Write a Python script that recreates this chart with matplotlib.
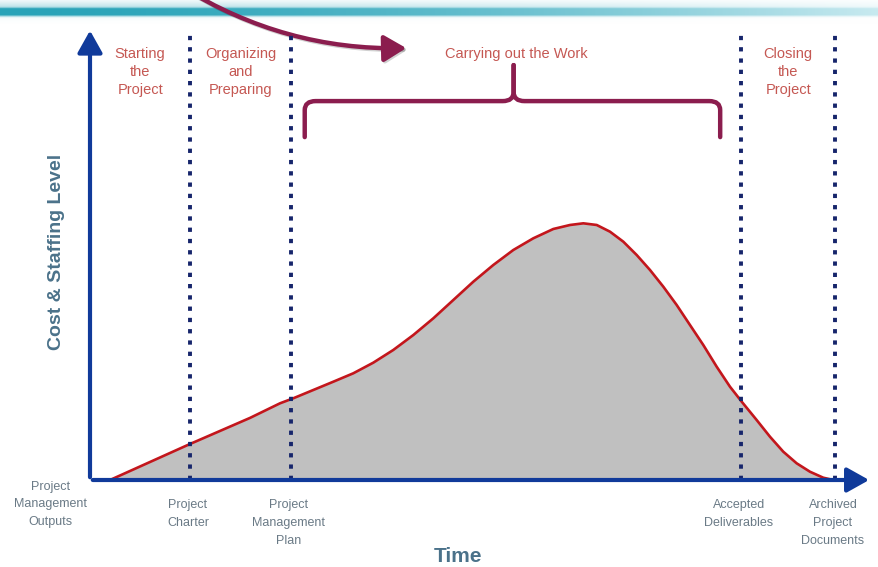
import numpy as np
import matplotlib.pyplot as plt
from matplotlib.patches import FancyArrowPatch, PathPatch
from matplotlib.path import Path

plt.rcParams['font.family'] = ['Liberation Sans', 'DejaVu Sans']

# cost / staffing curve (time and level both on a 0-100 scale)
time = [2.57, 12.85, 20.57, 24.42, 26.13, 28.70, 31.27, 33.84, 36.41, 38.98,
        41.56, 44.13, 46.70, 49.27, 51.84, 54.41, 56.98, 59.55, 61.70, 63.41,
        65.13, 66.84, 68.55, 70.27, 71.98, 73.69, 75.41, 77.12, 78.83, 80.55,
        82.26, 83.77, 85.69, 87.40, 89.11, 90.83, 92.54, 94.25, 95.54]
level = [0.0, 8.0, 13.8, 17.04, 18.16, 20.0, 21.84, 23.71, 26.07, 28.89,
         32.22, 35.93, 40.0, 44.07, 47.78, 51.11, 53.71, 55.78, 56.67, 57.04,
         56.67, 55.18, 52.96, 50.0, 46.67, 42.96, 38.89, 34.44, 30.0, 25.18,
         20.73, 17.4, 13.33, 9.62, 6.29, 3.71, 1.84, 0.51, 0.0]

milestones = [12.9, 25.8, 83.7, 95.8]
milestone_labels = ["Project\nCharter", "Project\nManagement\nPlan",
                    "Accepted\nDeliverables", "Archived\nProject\nDocuments"]
origin_label = "Project\nManagement\nOutputs"

phase_names = ["Starting\nthe\nProject", "Organizing\nand\nPreparing",
               "Carrying out the Work", "Closing\nthe\nProject"]
phase_bounds = [0.0] + milestones

W, H = 879, 567
fig = plt.figure(figsize=(W / 100, H / 100), dpi=100)
fig.patch.set_facecolor('white')

# decoration layer in pixel units
deco = fig.add_axes([0, 0, 1, 1])
deco.set_xlim(0, W)
deco.set_ylim(H, 0)
deco.axis('off')

# teal header bar, fading to the right
xs = np.linspace(0, 1, W)
ys = np.arange(24)
left_c = np.array([40, 163, 184]) / 255
right_c = np.array([200, 234, 240]) / 255
col = left_c[None, :] * (1 - xs[:, None] ** 1.6) + right_c[None, :] * xs[:, None] ** 1.6
a = np.exp(-((ys - 11.5) / 4.2) ** 4)
glow = 0.3 * np.exp(-((ys - 8) / 7.0) ** 2)
a = np.clip(a + glow, 0, 1)
img = 1 - a[:, None, None] * (1 - col[None, :, :])
deco.imshow(img, extent=(0, W, 24, 0), aspect='auto', zorder=1)

# main chart axes
ax = fig.add_axes([90 / W, (H - 480) / H, 778 / W, 450 / H])
ax.set_xlim(0, 100)
ax.set_ylim(0, 100)
ax.axis('off')

ax.fill_between(time, level, 0, color='#c0c0c0', lw=0, zorder=2)
ax.plot(time, level, color='#c3161c', lw=1.9, zorder=3,
        solid_joinstyle='round')

ax.vlines(milestones, 0, 100, colors='#16256b', lw=2.8,
          linestyles=[(0, (1.1, 1.8))], zorder=4)

# axes arrows
axis_blue = '#103a9a'
for end in [(1.005, 0), (0, 1.005)]:
    arr = FancyArrowPatch((0, 0), end, transform=ax.transAxes,
                          arrowstyle='-|>,head_length=0.75,head_width=0.42',
                          mutation_scale=18, color=axis_blue, lw=3,
                          clip_on=False, zorder=5)
    ax.add_patch(arr)

# phase labels
red_text = '#c55853'
for name, lo, hi in zip(phase_names, phase_bounds[:-1], phase_bounds[1:]):
    ax.text((lo + hi) / 2, 96.2, name, ha='center', va='top', fontsize=10.5,
            color=red_text, linespacing=1.38, zorder=6)

# milestone labels under the axis
gray_text = '#6a7a86'
xtr = ax.get_xaxis_transform()
for t, lab in zip(milestones, milestone_labels):
    ax.text(t - 0.3, -0.042, lab, transform=xtr, ha='center', va='top',
            fontsize=9, color=gray_text, linespacing=1.65)
ax.text(-5.1, -0.002, origin_label, transform=xtr, ha='center', va='top',
        fontsize=9, color=gray_text, linespacing=1.6)

# axis titles
title_c = '#4b728a'
fig.text(458 / W, 1 - 557 / H, "Time", ha='center', va='center',
         fontsize=15, fontweight='bold', color=title_c)
fig.text(57 / W, 1 - 252 / H, "Cost & Staffing Level", ha='center', va='center',
         rotation=90, fontsize=14, fontweight='bold', color=title_c)

# curly brace over the work phase
maroon = '#8b1d4e'
lo, hi = phase_bounds[2] + 1.8, phase_bounds[3] - 2.7
mid = (phase_bounds[2] + phase_bounds[3]) / 2 - 0.3
b_end, b_bar, b_tip = 76.2, 84.2, 92.2
rx, ry = 1.4, 2.0
for side in (-1, 1):
    e = lo if side < 0 else hi
    verts = [(e, b_end), (e, b_bar - ry), (e, b_bar), (e - side * rx, b_bar),
             (mid + side * rx, b_bar), (mid, b_bar), (mid, b_bar + ry),
             (mid, b_tip)]
    codes = [Path.MOVETO, Path.LINETO, Path.CURVE3, Path.CURVE3,
             Path.LINETO, Path.CURVE3, Path.CURVE3, Path.LINETO]
    ax.add_patch(PathPatch(Path(verts, codes), fill=False, ec=maroon, lw=3.2,
                           capstyle='round', joinstyle='round', zorder=6,
                           clip_on=False))

# swooping arrow from the top edge, with a soft shadow
for dx, dy, c, al, z in [(1.5, 1.5, '#000000', 0.18, 6.5), (0, 0, maroon, 1.0, 7)]:
    swoop = FancyArrowPatch((180 + dx, -14 + dy), (409 + dx, 48 + dy),
                            transform=deco.transData,
                            connectionstyle='arc3,rad=0.15',
                            arrowstyle='-|>,head_length=0.75,head_width=0.45',
                            mutation_scale=18, color=c, alpha=al, lw=3.2,
                            zorder=z, clip_on=False)
    deco.add_patch(swoop)

fig.savefig('out.png', dpi=100)
